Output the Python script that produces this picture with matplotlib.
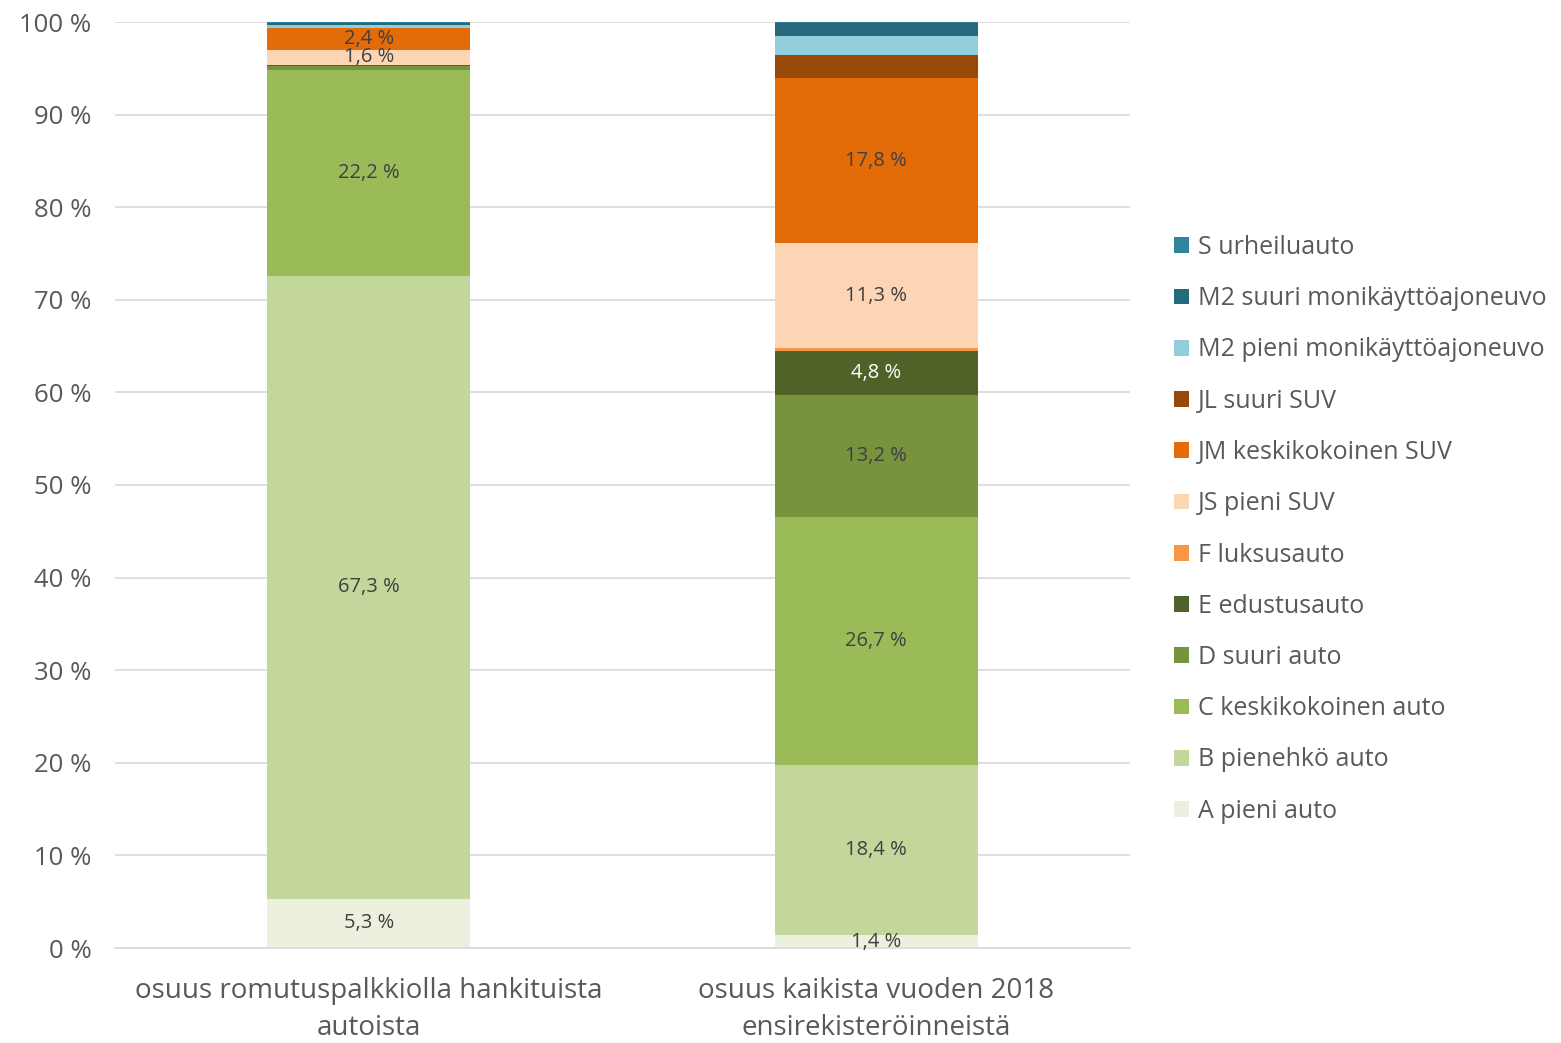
import numpy as np
import matplotlib.pyplot as plt
from matplotlib.patches import Patch
from matplotlib.ticker import FuncFormatter

plt.rcParams['font.family'] = ['Open Sans', 'DejaVu Sans']

# categories (x axis)
categories = ["osuus romutuspalkkiolla hankituista\nautoista",
              "osuus kaikista vuoden 2018\nensirekisteröinneistä"]

# series, bottom to top
series = ["A pieni auto", "B pienehkö auto", "C keskikokoinen auto",
          "D suuri auto", "E edustusauto", "F luksusauto", "JS pieni SUV",
          "JM keskikokoinen SUV", "JL suuri SUV", "M2 pieni monikäyttöajoneuvo",
          "M2 suuri monikäyttöajoneuvo", "S urheiluauto"]

romutus = [5.3, 67.3, 22.2, 0.5, 0.1, 0.0, 1.6, 2.4, 0.0, 0.3, 0.2, 0.1]
kaikki = [1.4, 18.4, 26.7, 13.2, 4.8, 0.3, 11.3, 17.8, 2.5, 2.1, 1.4, 0.1]

# which segments get a value label
labelled_romutus = ["A pieni auto", "B pienehkö auto", "C keskikokoinen auto",
                    "JS pieni SUV", "JM keskikokoinen SUV"]
labelled_kaikki = ["A pieni auto", "B pienehkö auto", "C keskikokoinen auto",
                   "D suuri auto", "E edustusauto", "JS pieni SUV",
                   "JM keskikokoinen SUV"]

colors = ["#EBF1DE", "#C3D69B", "#9BBB59", "#77933C", "#4F6228", "#F79646",
          "#FCD5B5", "#E36C09", "#984807", "#92CDDC", "#246A7C", "#31859C"]

fig = plt.figure(figsize=(15.61, 10.43), dpi=100)
ax = fig.add_axes([115 / 1561, 1 - 948 / 1043, 1015 / 1561, 926 / 1043])

x = np.arange(len(categories))
values = np.array([romutus, kaikki])
labelled = [labelled_romutus, labelled_kaikki]
bottom = np.zeros(len(categories))
for i, name in enumerate(series):
    vals = values[:, i]
    ax.bar(x, vals, width=0.4, bottom=bottom, color=colors[i], zorder=2)
    for j in range(len(categories)):
        if name in labelled[j]:
            txt_col = "white" if name == "E edustusauto" else "#404040"
            ax.text(x[j], bottom[j] + vals[j] / 2, "{:.1f} %".format(vals[j]).replace(".", ","),
                    ha="center", va="center", fontsize=14.5, color=txt_col, zorder=3)
    bottom += vals

ax.set_xlim(-0.5, 1.5)
ax.set_ylim(0, 100)
ax.set_yticks(np.arange(0, 101, 10))
ax.yaxis.set_major_formatter(FuncFormatter(lambda v, p: "{:d} %".format(int(v))))
ax.set_xticks(x)
ax.set_xticklabels(categories, linespacing=1.4)
ax.grid(axis="y", color="#D9D9D9", linewidth=1.2, zorder=0)
for s in ["top", "right", "left"]:
    ax.spines[s].set_visible(False)
ax.spines["bottom"].set_color("#D9D9D9")
ax.spines["bottom"].set_linewidth(1.2)
ax.tick_params(axis="y", length=0, labelsize=18.5, colors="#595959", pad=17)
ax.tick_params(axis="x", length=0, labelsize=20, colors="#595959", pad=21)

handles = [Patch(facecolor=c, edgecolor="none") for c in colors[::-1]]
fig.legend(handles, series[::-1], loc="upper left",
           bbox_to_anchor=(1164 / 1561, 1 - 225 / 1043), frameon=False,
           fontsize=18, labelcolor="#595959", handlelength=0.6, handleheight=0.6,
           handletextpad=0.35, labelspacing=1.05, borderaxespad=0)

fig.savefig("out.png", dpi=100)
